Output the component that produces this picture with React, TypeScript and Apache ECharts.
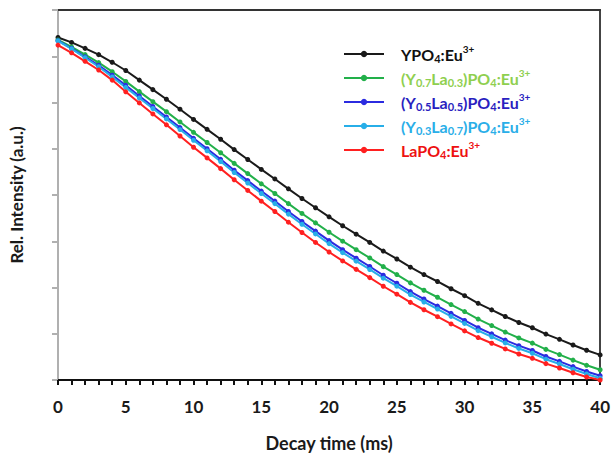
import React, { useEffect, useRef } from "react";
import * as echarts from "echarts";

const decayTimes = [0,1,2,3,4,5,6,7,8,9,10,11,12,13,14,15,16,17,18,19,20,21,22,23,24,25,26,27,28,29,30,31,32,33,34,35,36,37,38,39,40];
const xTickLabels = ["0","5","10","15","20","25","30","35","40"];

const ypo4 = [7.406,7.299,7.170,7.035,6.870,6.692,6.484,6.278,6.070,5.855,5.634,5.420,5.205,4.982,4.768,4.553,4.347,4.133,3.925,3.725,3.528,3.335,3.153,2.975,2.788,2.617,2.439,2.280,2.130,1.973,1.823,1.658,1.516,1.373,1.244,1.130,0.993,0.879,0.757,0.643,0.543];
const y07 = [7.352,7.202,7.035,6.863,6.666,6.456,6.235,6.018,5.802,5.580,5.355,5.135,4.913,4.684,4.463,4.242,4.032,3.813,3.601,3.397,3.195,3.001,2.818,2.639,2.451,2.279,2.100,1.940,1.789,1.631,1.480,1.317,1.177,1.036,0.909,0.797,0.662,0.550,0.430,0.318,0.221];
const y05 = [7.337,7.170,6.988,6.803,6.591,6.370,6.141,5.913,5.688,5.458,5.226,5.000,4.772,4.536,4.311,4.085,3.869,3.644,3.427,3.219,3.013,2.818,2.634,2.454,2.265,2.092,1.912,1.751,1.599,1.440,1.287,1.130,0.997,0.863,0.742,0.637,0.508,0.403,0.289,0.184,0.093];
const y03 = [7.331,7.160,6.968,6.773,6.553,6.327,6.098,5.870,5.645,5.415,5.183,4.955,4.725,4.487,4.260,4.032,3.814,3.587,3.368,3.158,2.949,2.754,2.570,2.390,2.201,2.028,1.848,1.687,1.535,1.376,1.223,1.067,0.935,0.802,0.682,0.578,0.450,0.346,0.233,0.129,0.039];
const lapo4 = [7.241,7.074,6.891,6.703,6.484,6.231,5.991,5.753,5.517,5.276,5.033,4.802,4.570,4.330,4.099,3.867,3.644,3.412,3.189,2.974,2.767,2.574,2.392,2.214,2.027,1.856,1.678,1.519,1.369,1.212,1.062,0.918,0.795,0.672,0.562,0.469,0.354,0.259,0.156,0.064,0.0];

const seriesNames = ["YPO4", "Y0.7La0.3", "Y0.5La0.5", "Y0.3La0.7", "LaPO4"];
const seriesValues = [ypo4, y07, y05, y03, lapo4];
const lineColors = ["#1a1a1a", "#22b04a", "#2b2be0", "#27aee8", "#ff2020"];
const textColors = ["#111111", "#8fcf4f", "#2a1fc0", "#2aaee8", "#ee1111"];
const legendLabels = [
  "{b|YPO}{sb|4}{b|:Eu}{sp|3+}",
  "{b|(Y}{sb|0.7}{b|La}{sb|0.3}{b|)PO}{sb|4}{b|:Eu}{sp|3+}",
  "{b|(Y}{sb|0.5}{b|La}{sb|0.5}{b|)PO}{sb|4}{b|:Eu}{sp|3+}",
  "{b|(Y}{sb|0.3}{b|La}{sb|0.7}{b|)PO}{sb|4}{b|:Eu}{sp|3+}",
  "{b|LaPO}{sb|4}{b|:Eu}{sp|3+}",
];

const FONT = "Lato";

export default function App() {
  const ref = useRef<HTMLDivElement>(null);
  useEffect(() => {
    const chart = echarts.init(ref.current!, null, { renderer: "svg" });
    const richFor = (c: string) => ({
      b: { color: c, fontSize: 16, fontWeight: "bold", fontFamily: FONT, lineHeight: 20 },
      sb: { color: c, fontSize: 11, fontWeight: "bold", fontFamily: FONT, lineHeight: 12, verticalAlign: "bottom" },
      sp: { color: c, fontSize: 10, fontWeight: "bold", fontFamily: FONT, lineHeight: 17, verticalAlign: "top" },
    });
    chart.setOption({
      animation: false,
      backgroundColor: "#ffffff",
      grid: { left: 56, right: 11, top: 10, bottom: 74, containLabel: false },
      legend: {
        orient: "vertical",
        left: 338,
        top: 39,
        itemWidth: 40,
        itemHeight: 8,
        itemGap: 4,
        data: seriesNames.map((n, i) => ({
          name: n,
          textStyle: { color: textColors[i], rich: richFor(textColors[i]) },
        })),
        formatter: (name: string) => legendLabels[seriesNames.indexOf(name)],
        textStyle: { fontFamily: FONT, fontWeight: "bold", fontSize: 16, padding: [0, 0, 0, 12] },
      },
      xAxis: [
        {
          type: "value",
          min: 0,
          max: 40,
          interval: 1,
          name: "Decay time (ms)",
          nameLocation: "middle",
          nameGap: 54,
          nameTextStyle: { fontFamily: FONT, fontWeight: "bold", fontSize: 18, color: "#1a1a1a" },
          axisLine: { show: true, lineStyle: { color: "#111", width: 2 } },
          axisTick: { show: true, length: 5, inside: false, lineStyle: { color: "#111", width: 2 } },
          axisLabel: {
            margin: 18,
            fontFamily: FONT,
            fontWeight: "bold",
            fontSize: 17,
            color: "#1a1a1a",
            formatter: (v: number) => (xTickLabels.includes(String(v)) ? String(v) : ""),
          },
          splitLine: { show: false },
        },
        {
          type: "value",
          position: "top",
          min: 0,
          max: 40,
          axisLine: { show: true, onZero: false, lineStyle: { color: "#333", width: 2 } },
          axisTick: { show: false },
          axisLabel: { show: false },
          splitLine: { show: false },
        },
      ],
      yAxis: [
        {
          type: "value",
          min: 0,
          max: 8,
          interval: 1,
          name: "Rel. Intensity (a.u.)",
          nameLocation: "middle",
          nameGap: 33,
          nameTextStyle: { fontFamily: FONT, fontWeight: "bold", fontSize: 17, color: "#1a1a1a" },
          axisLine: { show: true, onZero: false, lineStyle: { color: "#b0b0b0", width: 2 } },
          axisTick: { show: true, length: 6, inside: false, lineStyle: { color: "#b0b0b0", width: 2 } },
          axisLabel: { show: false },
          splitLine: { show: false },
        },
        {
          type: "value",
          position: "right",
          min: 0,
          max: 8,
          axisLine: { show: true, onZero: false, lineStyle: { color: "#444", width: 2 } },
          axisTick: { show: false },
          axisLabel: { show: false },
          splitLine: { show: false },
        },
      ],
      series: seriesNames.map((n, i) => ({
        name: n,
        type: "line",
        xAxisIndex: 0,
        yAxisIndex: 0,
        data: decayTimes.map((t, j) => [t, seriesValues[i][j]]),
        symbol: "circle",
        symbolSize: 5,
        showSymbol: true,
        clip: false,
        lineStyle: { color: lineColors[i], width: 2 },
        itemStyle: { color: lineColors[i] },
      })),
    });
    return () => chart.dispose();
  }, []);
  return <div ref={ref} style={{ position: "fixed", left: 0, top: 0, width: 613, height: 457 }} />;
}
